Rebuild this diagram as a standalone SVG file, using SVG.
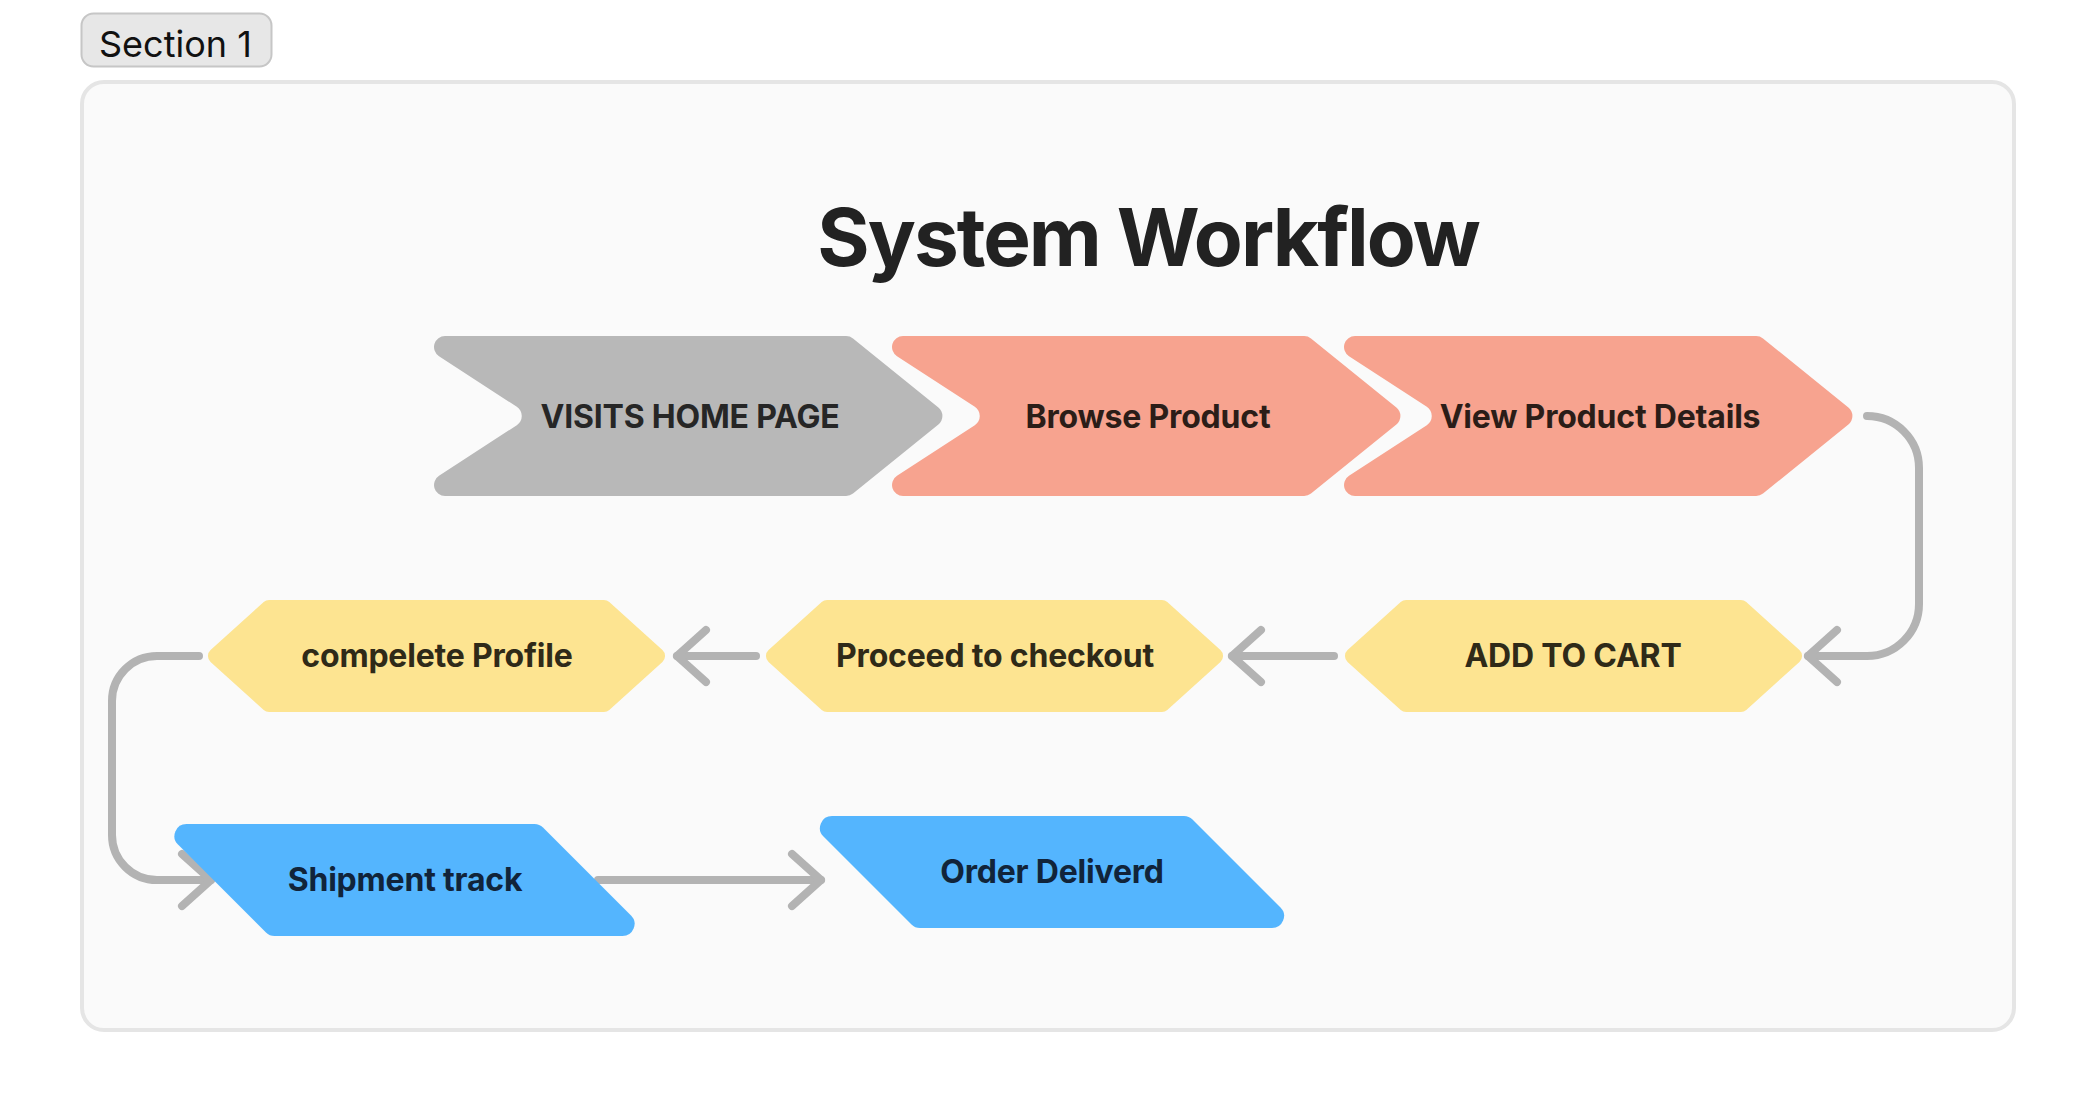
<svg xmlns="http://www.w3.org/2000/svg" xmlns:xlink="http://www.w3.org/1999/xlink" width="2096" height="1112" viewBox="0 0 2096 1112">
  <style>
    .lbl { font-family: Inter, "Liberation Sans", sans-serif; font-weight: 700; font-size: 32px; text-anchor: middle; letter-spacing: -0.2px; }
    .conn { fill: none; stroke: #b3b3b3; stroke-width: 8; stroke-linecap: round; stroke-linejoin: round; }
  </style>
  <defs>
    <path id="chev" d="M37,336 H438.1 A11,11 0 0 1 445,338.4 L530.4,407.5 A11,11 0 0 1 530.4,424.5 L445,493.6 A11,11 0 0 1 438.1,496 H37 A11,11 0 0 1 31,475.8 L108.8,425.2 A11,11 0 0 0 108.8,406.8 L31,356.2 A11,11 0 0 1 37,336 Z"/>
    <path id="hex" d="M65.08,0 H399.92 A8,8 0 0 1 405.29,2.06 L458.43,50.06 A8,8 0 0 1 458.43,61.94 L405.29,109.94 A8,8 0 0 1 399.92,112 H65.08 A8,8 0 0 1 59.71,109.94 L6.57,61.94 A8,8 0 0 1 6.57,50.06 L59.71,2.06 A8,8 0 0 1 65.08,0 Z"/>
    <path id="para" d="M28.97,0 H377.03 A12,12 0 0 1 385.51,3.51 L473.52,91.52 A12,12 0 0 1 465.03,112 H116.97 A12,12 0 0 1 108.49,108.49 L20.48,20.48 A12,12 0 0 1 28.97,0 Z"/>
    <path id="para2" d="M28.97,0 H381.03 A12,12 0 0 1 389.51,3.51 L477.52,91.52 A12,12 0 0 1 469.03,112 H116.97 A12,12 0 0 1 108.49,108.49 L20.48,20.48 A12,12 0 0 1 28.97,0 Z"/>
    <marker id="arr" markerUnits="userSpaceOnUse" viewBox="0 0 40 70" markerWidth="40" markerHeight="70" refX="34" refY="35" orient="auto">
      <path d="M5,9 L34,35 L5,61" fill="none" stroke="#b3b3b3" stroke-width="8" stroke-linecap="round" stroke-linejoin="round"/>
    </marker>
  </defs>
  <rect width="2096" height="1112" fill="#ffffff"/>
  <g id="section">
    <rect x="82" y="82" width="1932" height="948" rx="22" fill="#fafafa" stroke="#e5e5e5" stroke-width="4"/>
    <rect x="81.5" y="13.5" width="190" height="53" rx="12" fill="#e7e7e7" stroke="#c6c6c6" stroke-width="2"/>
    <text x="99" y="57" font-family="Inter, 'Liberation Sans', sans-serif" font-size="36" fill="#111111">Section 1</text>
  </g>
  <g id="title">
    <text x="1148" y="266" font-family="Inter, 'Liberation Sans', sans-serif" font-weight="700" font-size="80" text-anchor="middle" letter-spacing="-2" fill="#222222">System Workflow</text>
  </g>
  <g id="connectors">
    <path class="conn" d="M1867,416 A52,52 0 0 1 1919,468 V604 A52,52 0 0 1 1867,656 H1808" marker-end="url(#arr)"/>
    <path class="conn" d="M1334,656 H1232" marker-end="url(#arr)"/>
    <path class="conn" d="M756,656 H677" marker-end="url(#arr)"/>
    <path class="conn" d="M199,656 H157 A45,45 0 0 0 112,701 V835 A45,45 0 0 0 157,880 H211" marker-end="url(#arr)"/>
    <path class="conn" d="M598,880 H821" marker-end="url(#arr)"/>
  </g>
  <g id="node-visits">
    <use xlink:href="#chev" href="#chev" x="408" fill="#b8b8b8"/>
    <text class="lbl" x="690" y="428" fill="#262626">VISITS HOME PAGE</text>
  </g>
  <g id="node-browse">
    <use xlink:href="#chev" href="#chev" x="866" fill="#f7a38f"/>
    <text class="lbl" x="1148" y="428" fill="#2b1d18">Browse Product</text>
  </g>
  <g id="node-view">
    <use xlink:href="#chev" href="#chev" x="1318" fill="#f7a38f"/>
    <text class="lbl" x="1600" y="428" fill="#2b1d18">View Product Details</text>
  </g>
  <g id="node-cart">
    <use xlink:href="#hex" href="#hex" x="1341" y="600" fill="#fde491"/>
    <text class="lbl" x="1573" y="667" fill="#2f2a18">ADD TO CART</text>
  </g>
  <g id="node-checkout">
    <use xlink:href="#hex" href="#hex" x="762" y="600" fill="#fde491"/>
    <text class="lbl" x="995" y="667" fill="#2f2a18">Proceed to checkout</text>
  </g>
  <g id="node-profile">
    <use xlink:href="#hex" href="#hex" x="204" y="600" fill="#fde491"/>
    <text class="lbl" x="437" y="667" fill="#2f2a18">compelete Profile</text>
  </g>
  <g id="node-shipment">
    <use xlink:href="#para" href="#para" x="157.5" y="824" fill="#54b5fe"/>
    <text class="lbl" x="405" y="891" fill="#11243a">Shipment track</text>
  </g>
  <g id="node-delivered">
    <use xlink:href="#para2" href="#para2" x="803" y="816" fill="#54b5fe"/>
    <text class="lbl" x="1052" y="883" fill="#11243a">Order Deliverd</text>
  </g>
</svg>
